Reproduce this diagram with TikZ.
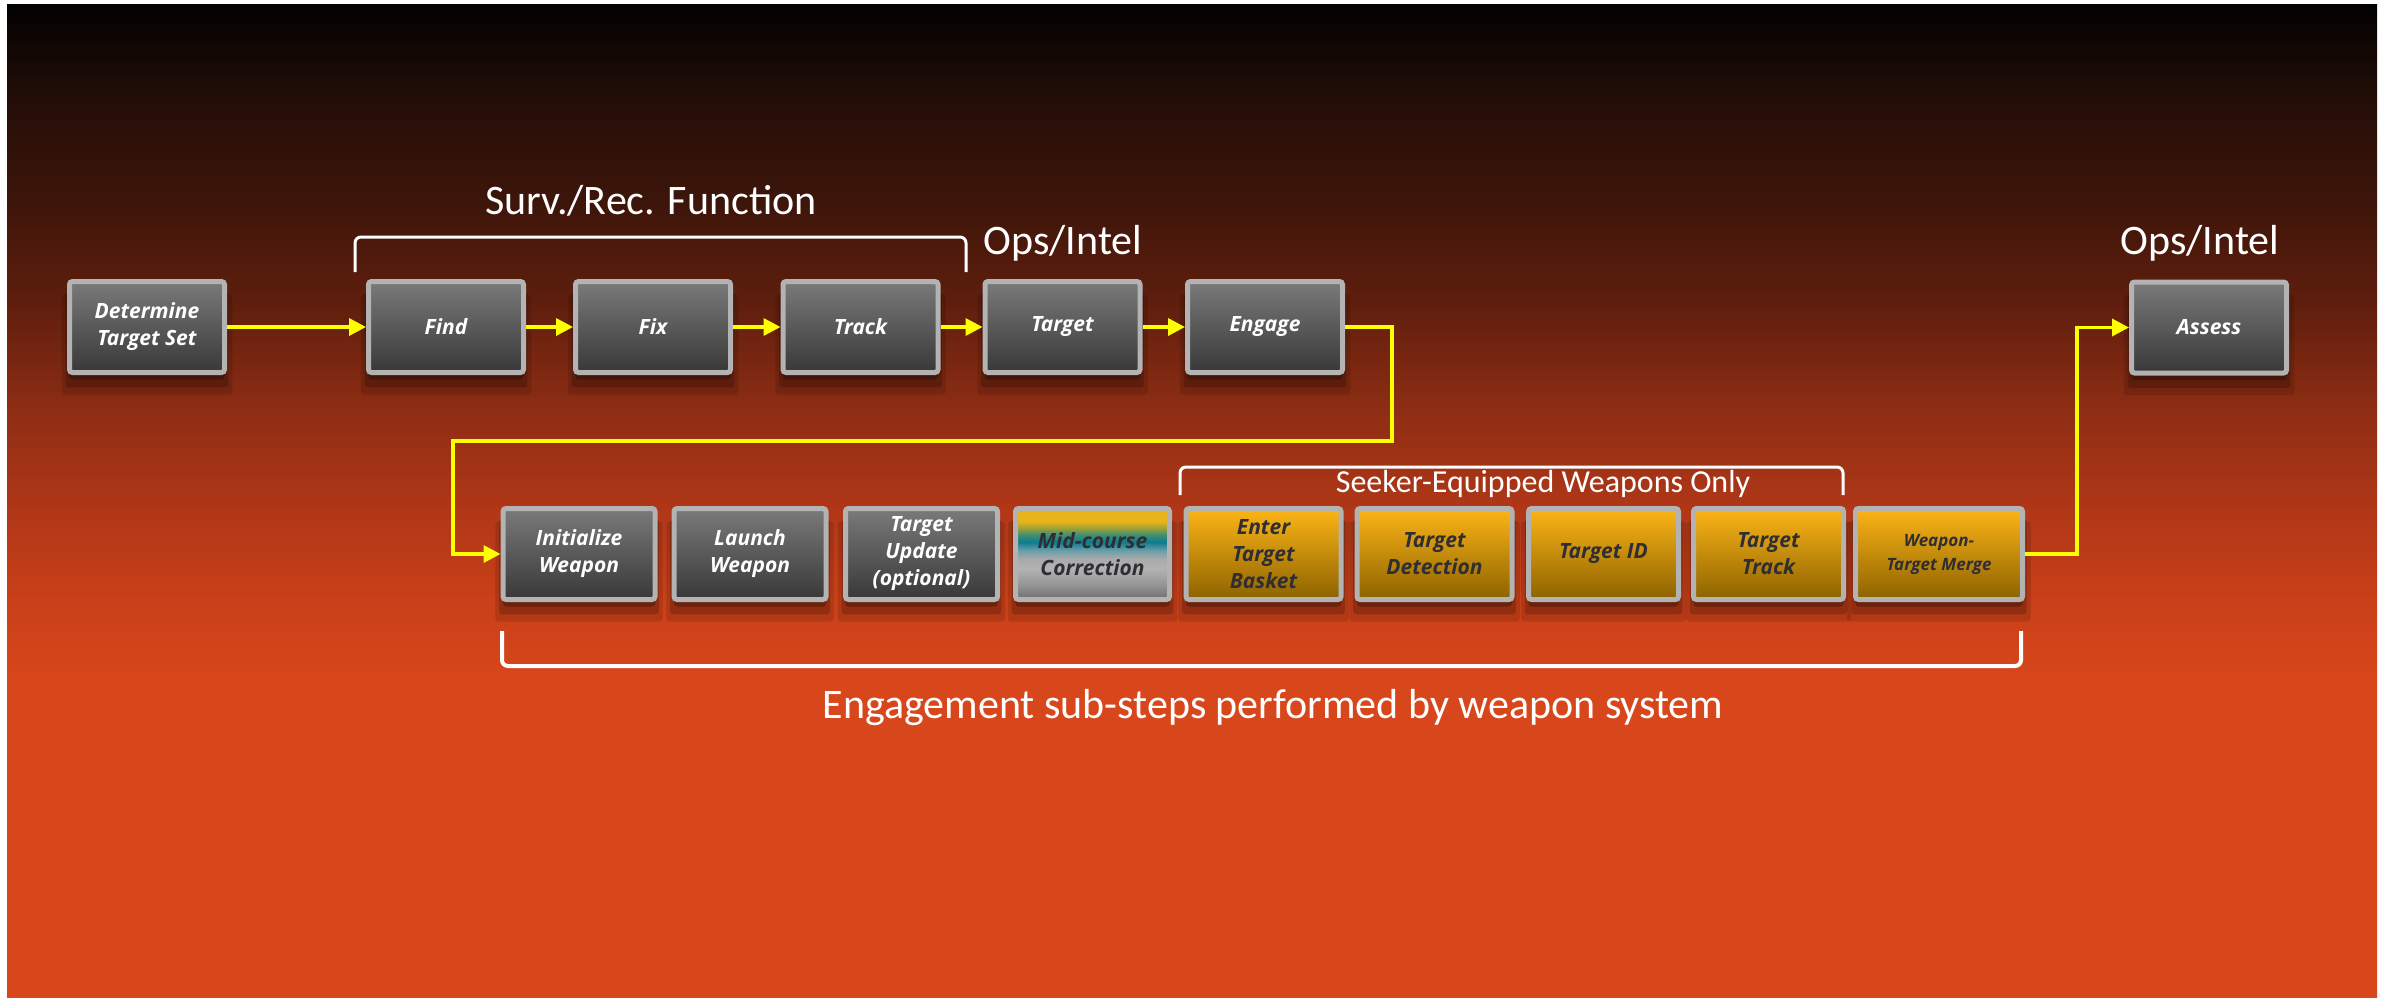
\documentclass[tikz,border=0pt]{standalone}
\usepackage{fontspec}
\usetikzlibrary{arrows.meta,shadows}
\newfontfamily\boxfont{Open Sans}
\newfontfamily\labfont{Carlito}

\definecolor{bordergray}{HTML}{B3B3B3}
\definecolor{gtop}{HTML}{7A7A7A}
\definecolor{gbot}{HTML}{383838}
\definecolor{ytop}{HTML}{FDB517}
\definecolor{ybot}{HTML}{8C6200}
\definecolor{darktext}{HTML}{2E2E33}
\definecolor{arrowyellow}{HTML}{FFFF00}

% background stops
\definecolor{bg0}{HTML}{030101}
\definecolor{bg1}{HTML}{230E07}
\definecolor{bg2}{HTML}{3D150A}
\definecolor{bg3}{HTML}{5E1E0D}
\definecolor{bg4}{HTML}{8A2C13}
\definecolor{bg5}{HTML}{AD3617}
\definecolor{bg6}{HTML}{C94019}
\definecolor{bg7}{HTML}{D8461B}
\pgfdeclareverticalshading{bgsh}{100bp}{color(0bp)=(bg7); color(25bp)=(bg7); color(40.96bp)=(bg7); color(45bp)=(bg6); color(50.03bp)=(bg5); color(55.06bp)=(bg4); color(60.1bp)=(bg3); color(65.13bp)=(bg2); color(70.17bp)=(bg1); color(75bp)=(bg0); color(100bp)=(bg0)}

% mid-course shading
\definecolor{mc0}{HTML}{E8B41A}
\definecolor{mc1}{HTML}{9AA038}
\definecolor{mc2}{HTML}{3E8E74}
\definecolor{mc3}{HTML}{0E7C8E}
\definecolor{mc4}{HTML}{6A9EA8}
\definecolor{mc5}{HTML}{A8A9AA}
\definecolor{mc6}{HTML}{B3B3B3}
\definecolor{mc7}{HTML}{949494}
\definecolor{mc8}{HTML}{6E6E6E}
\pgfdeclareverticalshading{midc}{100bp}{color(0bp)=(mc8); color(25bp)=(mc8); color(33bp)=(mc7); color(42bp)=(mc6); color(47.5bp)=(mc5); color(52bp)=(mc4); color(56.5bp)=(mc3); color(60.5bp)=(mc2); color(64bp)=(mc1); color(68bp)=(mc0); color(75bp)=(mc0); color(100bp)=(mc0)}

\tikzset{
  shd/.style={
    general shadow={fill=black, opacity=0.12, shadow yshift=-8pt, shadow scale=1.1},
    general shadow={fill=black, opacity=0.18, shadow yshift=-6pt, shadow scale=1.05},
    general shadow={fill=black, opacity=0.25, shadow yshift=-3.5pt}},
  box/.style={shd, draw=bordergray, line width=2.5pt, rounded corners=1.5pt,
    minimum height=45.5pt, minimum width=#1, inner sep=0pt, align=center,
    font=\boxfont\bfseries\itshape\fontsize{10.5}{13.5}\selectfont, text=white},
  box/.default=77.5pt,
  gbox/.style={box=#1, top color=gtop, bottom color=gbot},
  gbox/.default=77.5pt,
  ybox/.style={box=#1, top color=ytop, bottom color=ybot, text=darktext},
  ybox/.default=77.5pt,
  mbox/.style={box=#1, shade, shading=midc, text=darktext},
  mbox/.default=77.5pt,
  conn/.style={draw=arrowyellow, line width=1.75pt, -{Triangle[length=8.5pt,width=8.5pt]}},
  brk/.style={draw=white, line width=1.5pt, rounded corners=3pt},
  lab/.style={text=white, inner sep=0pt, anchor=base, font=\labfont\fontsize{21}{25}\selectfont},
}

\begin{document}
\begin{tikzpicture}[x=0.5pt,y=-0.5pt]
\useasboundingbox (0,0) rectangle (2392,997);
\fill[white] (0,0) rectangle (2392,997);
\shade[shading=bgsh] (7,4) rectangle (2377,997);

% brackets
\draw[brk] (355,272) -- (355,237) -- (966,237) -- (966,272);
\draw[brk] (1180,495) -- (1180,467) -- (1843,467) -- (1843,495);
\draw[brk, line width=2pt] (502,631) -- (502,666) -- (2021,666) -- (2021,631);

% labels
\node[lab] (lsurv) at (651,214) {Surv./Rec. Function};
\node[lab] (lops1) at (1063,254) {Ops/Intel};
\node[lab] (lops2) at (2200,254) {Ops/Intel};
\node[lab, font=\labfont\fontsize{16}{19}\selectfont] (lseek) at (1543,492) {Seeker-Equipped Weapons Only};
\node[lab] (leng) at (1273,718) {Engagement sub-steps performed by weapon system};

% top row
\node[gbox] (dts) at (147,327) {Determine\\Target Set};
\node[gbox] (find) at (446,327) {Find};
\node[gbox] (fix) at (653,327) {Fix};
\node[gbox] (track) at (860.5,327) {Track};
\node[gbox] (target) at (1062.5,327) {Target};
\node[gbox] (engage) at (1265,327) {Engage};
\node[gbox] (assess) at (2209,327.5) {Assess};

% bottom row
\node[gbox=76pt] (init) at (579,554) {Initialize\\Weapon};
\node[gbox=76pt] (launch) at (750,554) {Launch\\Weapon};
\node[gbox=76pt] (update) at (921.5,554) {Target\\Update\\(optional)};
\node[mbox=77pt] (mid) at (1092.5,554) {Mid-course\\Correction};
\node[ybox=77.5pt] (enter) at (1263.5,554) {Enter\\Target\\Basket};
\node[ybox=77.5pt] (detect) at (1434.5,554) {Target\\Detection};
\node[ybox=75pt] (tid) at (1603.5,554) {Target ID};
\node[ybox=75pt] (ttrack) at (1768.5,554) {Target\\Track};
\node[ybox=83.5pt, font=\boxfont\bfseries\itshape\fontsize{8.5}{12}\selectfont] (merge) at (1939,554) {Weapon-\\Target Merge};

% connectors
\draw[conn] (dts.east) -- (find.west);
\draw[conn] (find.east) -- (fix.west);
\draw[conn] (fix.east) -- (track.west);
\draw[conn] (track.east) -- (target.west);
\draw[conn] (target.east) -- (engage.west);

\coordinate (k1) at (1392,441);
\coordinate (k2) at (453,441);
\draw[conn] (engage.east) -| (k1) -- (k2) |- (init.west);

\coordinate (k3) at (2077,441);
\draw[conn] (merge.east) -| (k3) |- (assess.west);
\end{tikzpicture}
\end{document}
